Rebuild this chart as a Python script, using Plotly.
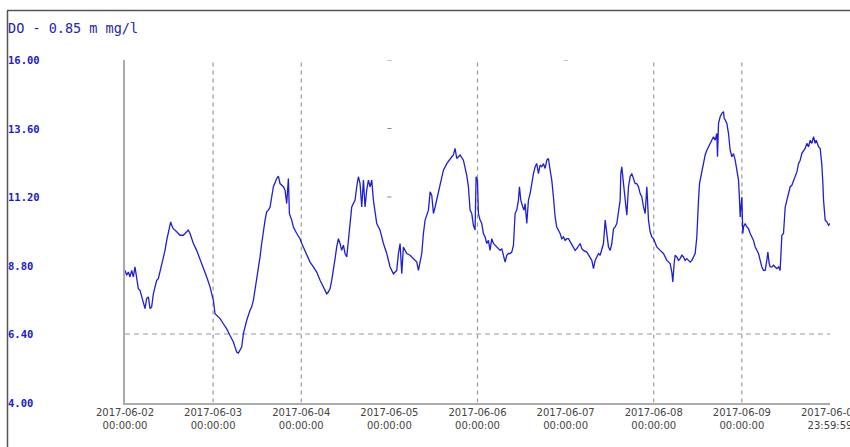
import pandas as pd
import plotly.graph_objects as go

# Dissolved oxygen readings: hours since 2017-06-02 00:00 and value in mg/l
hours = [
    0.00, 0.45, 0.91, 1.36, 1.82, 2.27, 2.72, 3.18, 3.63, 4.09, 4.54, 4.99, 5.45, 5.90, 6.36, 6.81,
    7.26, 7.72, 8.17, 8.63, 9.08, 9.53, 9.99, 10.44, 10.90, 11.35, 11.80, 12.26, 12.44, 12.71, 13.17,
    14.08, 14.98, 15.89, 16.80, 17.25, 17.71, 18.62, 19.52, 20.43, 21.34, 22.25, 23.16, 24.07, 24.52,
    24.97, 25.88, 26.79, 27.70, 28.60, 29.51, 29.97, 30.42, 30.88, 31.33, 31.78, 32.24, 32.69, 33.15,
    34.05, 34.51, 34.96, 35.87, 36.32, 36.78, 37.23, 37.68, 38.14, 38.59, 39.05, 39.50, 40.41, 41.32,
    41.77, 42.22, 43.13, 43.59, 44.04, 44.50, 44.77, 45.40, 45.86, 46.76, 47.67, 48.13, 48.58, 49.49,
    50.40, 51.30, 52.21, 53.12, 54.03, 54.94, 55.39, 55.85, 56.30, 56.75, 57.21, 57.66, 58.12, 58.57,
    59.02, 59.48, 59.93, 60.39, 60.84, 61.29, 61.75, 62.20, 62.66, 63.11, 63.56, 64.02, 64.47, 64.93,
    65.38, 65.83, 66.29, 66.74, 67.20, 67.65, 68.10, 68.56, 69.47, 70.38, 71.28, 72.19, 73.10, 74.01,
    74.46, 74.92, 75.37, 75.82, 76.28, 76.73, 77.64, 78.55, 79.46, 79.91, 80.37, 80.82, 81.27, 81.73,
    82.64, 83.09, 83.54, 84.00, 84.45, 84.91, 85.81, 86.72, 87.63, 88.54, 89.00, 89.44, 89.89, 90.35,
    91.26, 92.16, 92.62, 93.07, 93.53, 93.98, 94.43, 94.89, 95.34, 95.62, 95.98, 96.25, 96.70, 97.16,
    97.61, 98.07, 98.52, 98.97, 99.43, 99.88, 100.34, 101.24, 102.15, 102.61, 103.06, 103.52, 103.97,
    104.42, 104.88, 105.33, 105.79, 106.24, 106.69, 107.15, 107.42, 107.79, 108.33, 108.69, 108.97,
    109.42, 109.87, 110.33, 111.24, 111.69, 112.14, 112.60, 113.05, 113.51, 113.96, 114.41, 114.87,
    115.32, 115.78, 116.23, 116.68, 117.14, 117.59, 118.05, 118.50, 118.96, 119.41, 119.86, 120.32,
    120.77, 121.23, 121.68, 122.13, 122.59, 123.04, 123.95, 124.41, 124.86, 125.77, 126.68, 127.13,
    127.59, 128.04, 128.50, 128.95, 129.40, 129.86, 130.31, 130.77, 131.22, 131.67, 132.13, 132.58,
    133.04, 133.49, 133.94, 134.40, 134.85, 135.03, 135.30, 135.76, 136.21, 136.67, 137.12, 137.57,
    138.03, 138.48, 138.94, 139.39, 139.84, 140.30, 140.75, 141.21, 141.66, 142.12, 142.57, 143.02,
    143.47, 143.92, 144.38, 144.83, 145.74, 146.65, 147.56, 148.47, 148.92, 149.19, 149.56, 149.83,
    150.28, 150.74, 151.19, 151.65, 152.10, 152.55, 153.01, 153.92, 154.37, 154.83, 155.28, 155.73,
    155.92, 156.19, 156.46, 157.10, 157.55, 158.00, 158.46, 158.91, 159.37, 159.82, 160.27, 160.73,
    161.18, 161.36, 161.64, 162.09, 162.54, 163.00, 163.18, 163.45, 163.91, 164.36, 164.81, 165.27,
    165.72, 166.18, 166.63, 167.08, 167.36, 167.54, 167.99, 168.26, 168.45, 168.90, 169.35, 169.81,
    170.26, 170.72, 171.17, 171.63, 172.08, 172.53, 172.99, 173.44, 173.90, 174.35, 174.80, 175.08,
    175.44, 175.71, 176.16, 176.62, 177.07, 177.53, 177.98, 178.43, 178.89, 179.34, 179.80, 180.25,
    180.71, 181.16, 181.61, 182.07, 182.52, 182.98, 183.43, 183.88, 184.34, 184.79, 185.25, 185.70,
    186.15, 186.61, 187.06, 187.52, 187.97, 188.24, 188.60, 188.88, 189.33, 189.78, 190.06, 190.24,
    190.69, 191.14, 191.60, 192.00,
]
do_values = [
    8.63, 8.46, 8.57, 8.40, 8.63, 8.40, 8.75, 8.28, 7.99, 7.93, 7.70, 7.46, 7.29, 7.64, 7.70, 7.29,
    7.35, 7.81, 8.05, 8.28, 8.34, 8.57, 8.81, 9.04, 9.33, 9.68, 9.92, 10.27, 10.33, 10.21, 10.09,
    9.98, 9.86, 9.86, 9.98, 10.04, 9.92, 9.57, 9.33, 9.04, 8.75, 8.40, 8.05, 7.58, 7.11,
    7.05, 6.94, 6.76, 6.58, 6.35, 6.12, 5.94, 5.77, 5.73, 5.82, 5.94, 6.41, 6.64, 6.88,
    7.23, 7.35, 7.58, 8.28, 8.75, 9.10, 9.57, 10.04, 10.39, 10.68, 10.74, 10.85, 11.56, 11.85,
    11.93, 11.67, 11.56, 11.44, 10.97, 11.85, 10.62, 10.39, 10.15, 9.92, 9.74, 9.57, 9.45, 9.16,
    8.92, 8.75, 8.57, 8.28, 8.05, 7.81, 7.87, 7.99, 8.28, 8.75, 9.04, 9.45, 9.74, 9.57,
    9.33, 9.51, 9.22, 9.10, 9.63, 10.15, 10.85, 10.97, 11.09, 11.56, 11.91, 11.67, 10.85, 11.79,
    10.85, 11.44, 11.79, 11.56, 11.79, 11.09, 10.74, 10.27, 10.04, 9.57, 9.22, 8.75, 8.51, 8.63,
    9.22, 9.57, 8.51, 9.45, 9.33, 9.22, 9.16, 9.04, 8.92, 8.63, 8.98, 9.22, 9.92, 10.39,
    10.74, 11.38, 11.26, 10.62, 10.85, 11.09, 11.56, 12.14, 12.37, 12.55, 12.61, 12.67, 12.90, 12.55,
    12.67, 12.49, 12.26, 11.96, 11.56, 10.74, 10.62, 10.21, 10.04, 11.91, 11.79, 10.62, 10.39, 10.27,
    9.92, 9.80, 9.57, 9.68, 9.33, 9.74, 9.57, 9.45, 9.33, 9.39, 9.16, 8.92, 9.16,
    9.22, 9.22, 9.27, 9.51, 10.62, 10.74, 11.09, 11.56, 11.09, 10.85, 10.74, 10.97,
    10.27, 11.09, 11.32, 12.02, 12.26, 12.37, 12.02, 12.32, 12.26, 12.37, 12.20, 12.49,
    12.55, 12.14, 11.79, 11.20, 10.50, 10.15, 10.04, 9.92, 9.74, 9.80, 9.68, 9.74,
    9.74, 9.63, 9.57, 9.45, 9.33, 9.39, 9.57, 9.39, 9.33, 9.27, 9.10, 8.98,
    8.69, 8.98, 9.10, 9.22, 9.16, 9.33, 9.57, 10.39, 9.80, 9.45, 9.33, 9.57,
    10.09, 10.15, 10.27, 10.62, 11.09, 12.02, 12.26, 11.67, 11.09, 10.56, 11.56, 11.91,
    12.02, 11.85, 11.67, 11.67, 11.56, 11.32, 11.20, 10.85, 10.62, 11.56, 10.39, 9.98,
    9.80, 9.74, 9.57, 9.45, 9.33, 9.22, 8.98, 8.87, 8.57, 8.22, 8.87, 9.16,
    9.10, 8.98, 9.04, 9.16, 9.10, 8.98, 9.04, 8.92, 8.98, 9.10, 9.22, 9.80,
    10.50, 11.09, 11.67, 12.14, 12.49, 12.67, 12.84, 12.96, 13.13, 13.19, 13.31, 13.19,
    13.43, 12.61, 13.78, 14.01, 14.13, 14.19, 13.95, 13.90, 13.78, 13.43, 12.84, 12.61,
    12.72, 12.49, 12.14, 11.79, 11.09, 10.50, 11.20, 9.92, 10.15, 10.27, 10.15, 10.09,
    9.92, 9.80, 9.68, 9.45, 9.33, 9.22, 8.98, 8.75, 8.63, 8.63, 8.98, 9.27,
    8.87, 8.75, 8.75, 8.81, 8.75, 8.69, 8.75, 8.63, 9.86, 9.92, 10.85, 11.09,
    11.32, 11.56, 11.61, 11.79, 11.91, 12.08, 12.37, 12.49, 12.73, 12.84, 12.90, 13.08,
    12.96, 13.19, 13.08, 13.31, 13.08, 13.19, 13.02, 12.96, 12.90, 12.32, 11.67, 11.09,
    10.39, 10.33, 10.21, 10.27,
]

start = pd.Timestamp("2017-06-02 00:00:00")
end = pd.Timestamp("2017-06-09 23:59:59")
times = [start + pd.Timedelta(hours=h) for h in hours]

# Axis ticks
x_ticks = [start + pd.Timedelta(days=d) for d in range(8)] + [end]
x_ticktext = [t.strftime("%Y-%m-%d") + "<br>" + t.strftime("%H:%M:%S") for t in x_ticks]
y_ticks = [16.0, 13.6, 11.2, 8.8, 6.4, 4.0]
y_ticktext = ["16.00", "13.60", "11.20", "8.80", "6.40", "4.00"]
grid_days = [1, 2, 4, 6, 7]
# short grid stubs left on days without a full dashed line: (day, level)
grid_stubs = [(3, 16.0), (3, 13.6), (3, 11.2), (5, 16.0)]
limit_value = 6.4

W, H = 850, 447
x_dom = [125 / W, 830 / W]
y_dom = [1 - 402.5 / H, 1 - 60 / H]

fig = go.Figure()
fig.add_trace(go.Scatter(
    x=times, y=do_values, mode="lines",
    line=dict(color="#1e1ed6", width=1.3),
    hoverinfo="x+y", showlegend=False,
))

shapes = []
# dashed vertical day lines
for d in grid_days:
    xd = start + pd.Timedelta(days=d)
    shapes.append(dict(type="line", xref="x", yref="y", x0=xd, x1=xd, y0=4, y1=16,
                       line=dict(color="#9a9a9a", width=1.2, dash="4px,4px"), layer="below"))
for d, lvl in grid_stubs:
    xd = start + pd.Timedelta(days=d)
    shapes.append(dict(type="line", xref="x", yref="y",
                       x0=xd - pd.Timedelta(minutes=35), x1=xd + pd.Timedelta(minutes=35),
                       y0=lvl, y1=lvl, line=dict(color="#8a8a8a", width=1.2), layer="below"))
# dashed horizontal limit line
shapes.append(dict(type="line", xref="x", yref="y", x0=start, x1=end, y0=limit_value, y1=limit_value,
                   line=dict(color="#9a9a9a", width=1.2, dash="5px,4px"), layer="below"))
# outer frame (top and left)
shapes.append(dict(type="line", xref="paper", yref="paper", x0=7 / W, x1=1, y0=1 - 10.5 / H, y1=1 - 10.5 / H,
                   line=dict(color="#555555", width=1.5)))
shapes.append(dict(type="line", xref="paper", yref="paper", x0=7.5 / W, x1=7.5 / W, y0=0, y1=1 - 10.5 / H,
                   line=dict(color="#555555", width=1.5)))

annotations = [dict(
    text="DO - 0.85 m mg/l", xref="paper", yref="paper", x=6 / W, y=1 - 28 / H,
    xanchor="left", yanchor="middle", showarrow=False,
    font=dict(family="DejaVu Sans Mono", size=13.5, color="#2424b0"),
)]
for v, t in zip(y_ticks, y_ticktext):
    annotations.append(dict(
        text="<b>" + t + "</b>", xref="paper", yref="y", x=6 / W, y=v,
        xanchor="left", yanchor="middle", showarrow=False,
        font=dict(family="DejaVu Sans Mono", size=10.5, color="#1a1ad0"),
    ))

fig.update_layout(
    width=W, height=H,
    margin=dict(l=0, r=0, t=0, b=0),
    paper_bgcolor="white", plot_bgcolor="white",
    shapes=shapes, annotations=annotations,
    xaxis=dict(
        domain=x_dom, type="date", range=[start, end + pd.Timedelta(seconds=2)],
        tickvals=x_ticks, ticktext=x_ticktext, tickangle=0,
        showgrid=False, zeroline=False, showline=True, linecolor="#ababab", linewidth=1.5,
        ticks="", ticklabelstandoff=0, automargin=False, ticklabeloverflow="allow",
        tickfont=dict(family="DejaVu Sans", size=10, color="#444444"),
    ),
    yaxis=dict(
        domain=y_dom, range=[4, 16], showticklabels=False, ticks="",
        showgrid=False, zeroline=False, showline=True, linecolor="#ababab", linewidth=1.5,
        automargin=False,
    ),
)

fig.write_html("out.html")
